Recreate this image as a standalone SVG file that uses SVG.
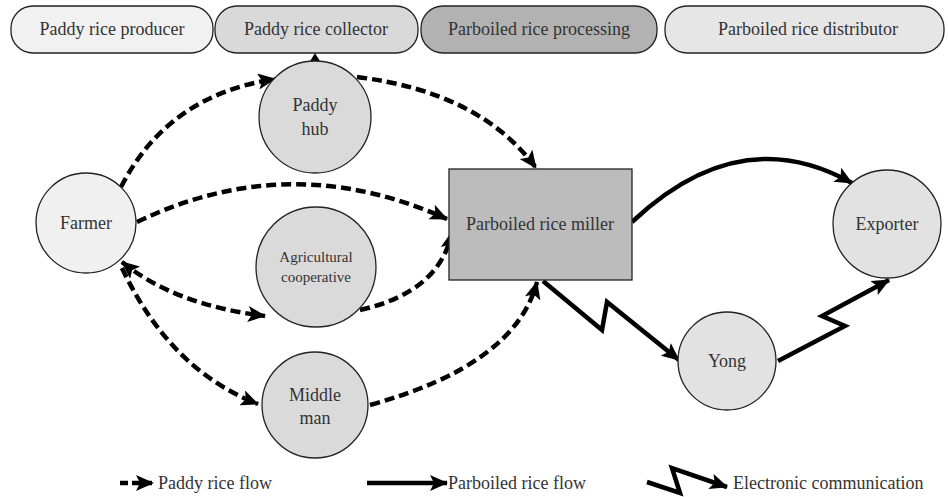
<svg xmlns="http://www.w3.org/2000/svg" width="948" height="497" viewBox="0 0 948 497" font-family="'Liberation Serif', 'DejaVu Serif', 'Times New Roman', serif">
<style>
text{font-family:'Liberation Serif','Times New Roman',serif;font-size:18px;fill:#333;text-anchor:middle}
.pill{stroke:#222;stroke-width:1.3}
.node{stroke:#222;stroke-width:1.3}
.dash{fill:none;stroke:#000;stroke-width:4.5;stroke-dasharray:10 5}
.solid{fill:none;stroke:#000;stroke-width:4.5}
.zig{fill:none;stroke:#000;stroke-width:4.5;stroke-linejoin:miter}
.lg{text-anchor:start}
.sm{font-size:15px}
</style>
<defs>
<marker id="ah" markerUnits="userSpaceOnUse" markerWidth="18" markerHeight="16" viewBox="0 0 18 16" refX="17" refY="8" orient="auto-start-reverse">
<path d="M0,0 L18,8 L0,16 L4,8 z" fill="#000"/>
</marker>
</defs>

<g id="header">
<g id="pill-producer"><rect class="pill" x="11" y="6" width="202" height="47" rx="22" fill="#f1f1f1"/><text x="112" y="35">Paddy rice producer</text></g>
<g id="pill-collector"><rect class="pill" x="215" y="6" width="203" height="47" rx="22" fill="#d9d9d9"/><text x="316" y="35">Paddy rice collector</text></g>
<g id="pill-processing"><rect class="pill" x="421" y="6" width="236" height="47" rx="22" fill="#b2b2b2"/><text x="539" y="35">Parboiled rice processing</text></g>
<g id="pill-distributor"><rect class="pill" x="665" y="6" width="279" height="47" rx="22" fill="#e6e6e6"/><text x="808" y="35">Parboiled rice distributor</text></g>
</g>

<g id="connectors">
<polygon points="315,53 309,63 321,63" fill="#000"/>
<path class="dash" d="M121,187 Q168,95 275,79" marker-end="url(#ah)"/>
<path class="dash" d="M357,77 Q480,92 536,168" marker-end="url(#ah)"/>
<path class="dash" d="M137,222 Q290,148 447,219" marker-end="url(#ah)"/>
<path class="dash" d="M122,262 Q175,305 265,316" marker-start="url(#ah)" marker-end="url(#ah)"/>
<path class="dash" d="M360,310 Q440,292 452,232" marker-end="url(#ah)"/>
<path class="dash" d="M370,405 Q515,365 537,282" marker-end="url(#ah)"/>
<path class="dash" d="M122,268 Q170,370 258,404" marker-end="url(#ah)"/>
<path class="solid" d="M632,222 Q740,120 852,183" marker-end="url(#ah)"/>
<path class="zig" d="M543,281 L602,330 L607,302 L679,360" marker-end="url(#ah)"/>
<path class="zig" d="M778,361 L845,326 L822,316 L889,280" marker-end="url(#ah)"/>
</g>

<g id="farmer"><circle class="node" cx="86" cy="223" r="50" fill="#f0f0f0"/><text x="86" y="229">Farmer</text></g>
<g id="paddy-hub"><circle class="node" cx="315" cy="117" r="56" fill="#dadada"/><text x="315" y="111">Paddy</text><text x="315" y="135">hub</text></g>
<g id="cooperative"><circle class="node" cx="316" cy="267" r="60" fill="#dadada"/><text class="sm" x="316" y="262">Agricultural</text><text class="sm" x="316" y="282">cooperative</text></g>
<g id="middle-man"><circle class="node" cx="315" cy="405" r="53" fill="#dadada"/><text x="315" y="401">Middle</text><text x="315" y="424">man</text></g>
<g id="miller"><rect class="node" x="449" y="169" width="183" height="111" fill="#bcbcbc"/><text x="540" y="230">Parboiled rice miller</text></g>
<g id="exporter"><circle class="node" cx="887" cy="224" r="54" fill="#e2e2e2"/><text x="887" y="230">Exporter</text></g>
<g id="yong"><circle class="node" cx="727" cy="361" r="49" fill="#e2e2e2"/><text x="727" y="367">Yong</text></g>

<g id="legend">
<path class="dash" d="M120,483 L153,483" style="stroke-dasharray:8 4" marker-end="url(#ah)"/>
<text class="lg" x="158" y="489">Paddy rice flow</text>
<path class="solid" d="M367,483 L447,483" marker-end="url(#ah)"/>
<text class="lg" x="448" y="489">Parboiled rice flow</text>
<path class="zig" d="M647,482 L680,493 L672,468 L727,487" marker-end="url(#ah)"/>
<text class="lg" x="733" y="489">Electronic communication</text>
</g>
</svg>
